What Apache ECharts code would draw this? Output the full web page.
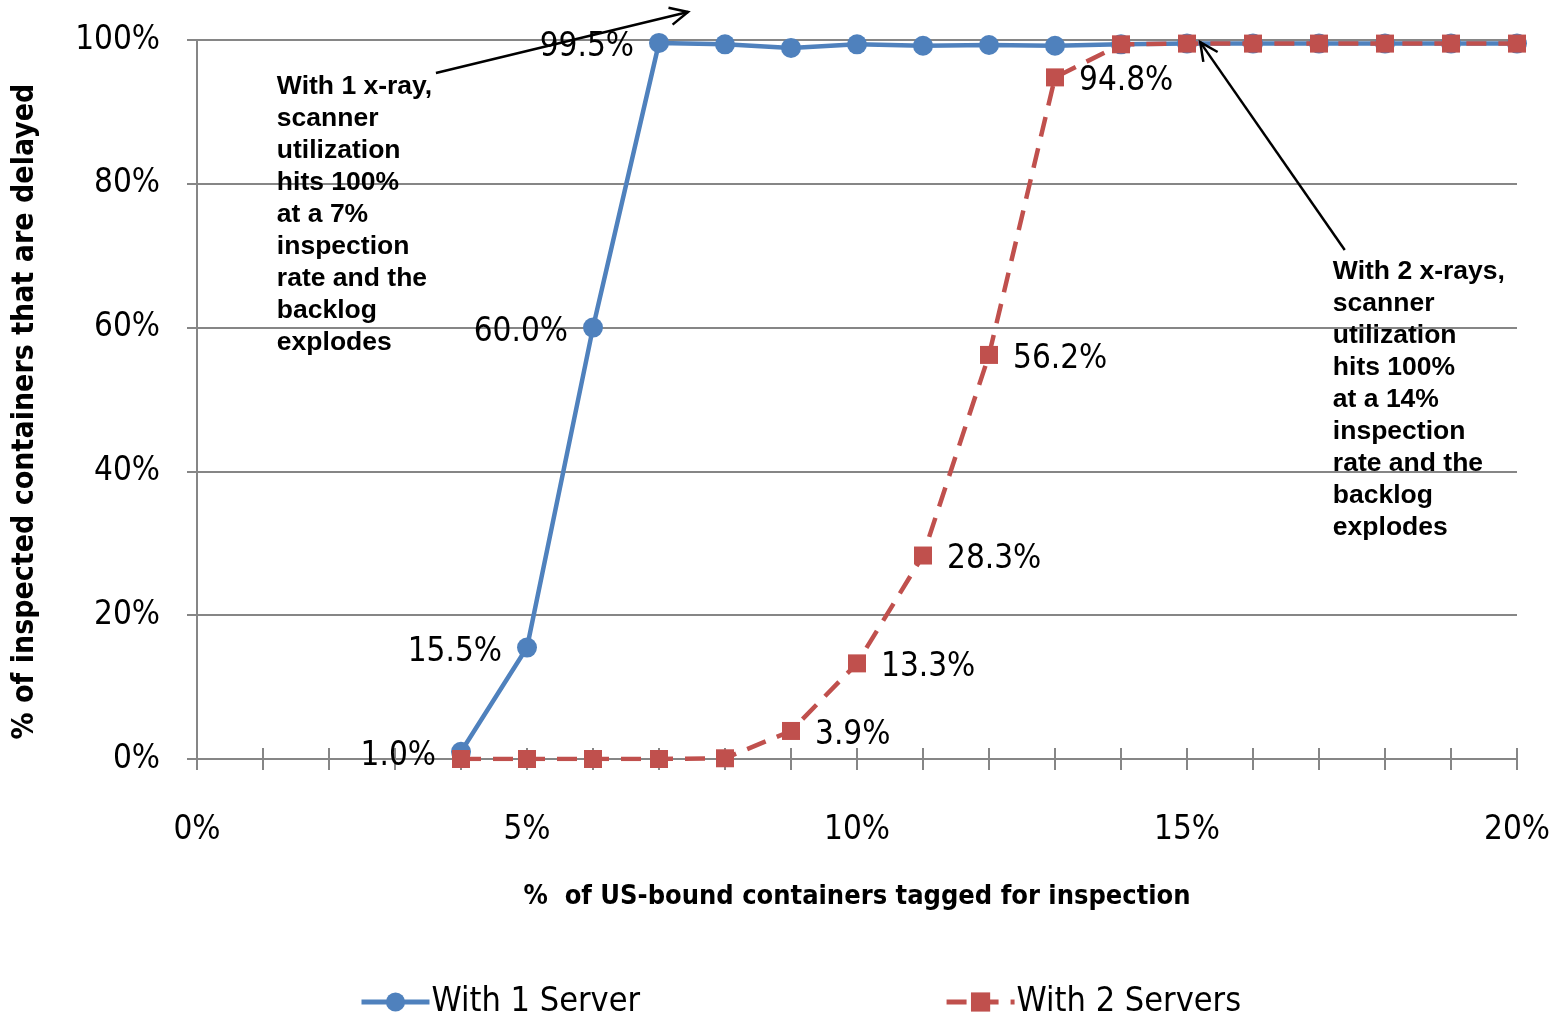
<!DOCTYPE html>
<html>
<head>
<meta charset="utf-8">
<script src="https://cdn.jsdelivr.net/npm/echarts@6/dist/echarts.min.js"></script>
<style>
html,body{margin:0;padding:0;background:#fff;}
#chart{width:1559px;height:1016px;}
</style>
</head>
<body>
<div id="chart"></div>
<script>
// ---- data ----
const xValues = [4, 5, 6, 7, 8, 9, 10, 11, 12, 13, 14, 15, 16, 17, 18, 19, 20];
const oneServer = [1.0, 15.5, 60.0, 99.6, 99.4, 98.9, 99.4, 99.2, 99.3, 99.2, 99.4, 99.5, 99.5, 99.5, 99.5, 99.5, 99.5];
const twoServers = [0, 0, 0, 0, 0.1, 3.9, 13.3, 28.3, 56.2, 94.8, 99.4, 99.5, 99.5, 99.5, 99.5, 99.5, 99.5];
const oneServerLabels = ['1.0%', '15.5%', '60.0%', '99.5%', '', '', '', '', '', '', '', '', '', '', '', '', ''];
const twoServerLabels = ['', '', '', '', '', '3.9%', '13.3%', '28.3%', '56.2%', '94.8%', '', '', '', '', '', '', ''];
const seriesNames = ['With 1 Server', 'With 2 Servers'];
const xTitle = '%  of US-bound containers tagged for inspection';
const yTitle = '% of inspected containers that are delayed';
const note1 = ['With 1 x-ray,', 'scanner', 'utilization', 'hits 100%', 'at a 7%', 'inspection', 'rate and the', 'backlog', 'explodes'];
const note2 = ['With 2 x-rays,', 'scanner', 'utilization', 'hits 100%', 'at a 14%', 'inspection', 'rate and the', 'backlog', 'explodes'];

const NARROW = "'Liberation Sans Narrow', 'DejaVu Sans Condensed', sans-serif";
const BLUE = '#4F81BD', RED = '#C0504D', GRID = '#868686';

const chart = echarts.init(document.getElementById('chart'));

function mk(vals, labels) {
  return xValues.map((x, i) => ({ value: [x, vals[i]], lbl: labels[i] }));
}

const option = {
  animation: false,
  backgroundColor: '#fff',
  grid: { left: 197, right: 42, top: 40, bottom: 257 },
  legend: {
    left: 354, top: 980,
    itemWidth: 68, itemHeight: 24, itemGap: 304,
    textStyle: { fontFamily: NARROW, fontSize: 34, color: '#000', padding: [0, 0, 0, -3] },
    lineStyle: { width: 5 },
    data: seriesNames
  },
  xAxis: [{
    type: 'value', min: 0, max: 20, interval: 5,
    position: 'bottom',
    name: xTitle, nameLocation: 'middle', nameGap: 124,
    nameTextStyle: { fontFamily: NARROW, fontSize: 27, fontWeight: 'bold', color: '#000' },
    axisLine: { show: true, onZero: false, lineStyle: { color: GRID, width: 2 } },
    axisTick: { show: true, length: 11, lineStyle: { color: GRID, width: 2 } },
    minorTick: { show: true, splitNumber: 5, length: 11, lineStyle: { color: GRID, width: 2 } },
    splitLine: { show: false },
    axisLabel: { fontFamily: NARROW, fontSize: 33, color: '#000', margin: 55, formatter: '{value}%' }
  }, {
    type: 'value', min: 0, max: 20, interval: 5,
    position: 'bottom', offset: 0,
    axisLine: { show: false },
    axisTick: { show: true, inside: true, length: 11, lineStyle: { color: GRID, width: 2 } },
    minorTick: { show: true, splitNumber: 5, length: 11, lineStyle: { color: GRID, width: 2 } },
    splitLine: { show: false },
    axisLabel: { show: false }
  }],
  yAxis: {
    type: 'value', min: 0, max: 100, interval: 20,
    name: yTitle, nameLocation: 'middle', nameGap: 157,
    nameTextStyle: { fontFamily: NARROW, fontSize: 30, fontWeight: 'bold', color: '#000', padding: [0, 24, 0, 0] },
    axisLine: { show: true, lineStyle: { color: GRID, width: 2 } },
    axisTick: { show: true, length: 10, lineStyle: { color: GRID, width: 2 } },
    splitLine: { show: true, lineStyle: { color: GRID, width: 2 } },
    axisLabel: { fontFamily: NARROW, fontSize: 33, color: '#000', margin: 37, padding: [12, 0, 0, 0], formatter: '{value}%' }
  },
  series: [{
    name: seriesNames[0], type: 'line', xAxisIndex: 0,
    data: mk(oneServer, oneServerLabels),
    symbol: 'circle', symbolSize: 20,
    lineStyle: { color: BLUE, width: 4.5 },
    itemStyle: { color: BLUE },
    label: {
      show: true, position: 'left', distance: 15, offset: [0, 5],
      fontFamily: NARROW, fontSize: 33, color: '#000',
      formatter: p => p.data.lbl
    },
    z: 2
  }, {
    name: seriesNames[1], type: 'line', xAxisIndex: 0,
    data: mk(twoServers, twoServerLabels),
    symbol: 'rect', symbolSize: 18,
    lineStyle: { color: RED, width: 4.5, type: [20, 12] },
    itemStyle: { color: RED },
    label: {
      show: true, position: 'right', distance: 15, offset: [0, 4],
      fontFamily: NARROW, fontSize: 33, color: '#000',
      formatter: p => p.data.lbl
    },
    z: 3
  }]
};
chart.setOption(option);

// ---- annotations (anchored in data space) ----
function px(x, y) { return chart.convertToPixel({ xAxisIndex: 0, yAxisIndex: 0 }, [x, y]); }
function arrow(from, to) {
  const a = px(from[0], from[1]), b = px(to[0], to[1]);
  const ang = Math.atan2(b[1] - a[1], b[0] - a[0]);
  const L = 20, h = 0.45;
  const p1 = [b[0] - L * Math.cos(ang - h), b[1] - L * Math.sin(ang - h)];
  const p2 = [b[0] - L * Math.cos(ang + h), b[1] - L * Math.sin(ang + h)];
  return [
    { type: 'line', shape: { x1: a[0], y1: a[1], x2: b[0], y2: b[1] }, style: { stroke: '#000', lineWidth: 2.5 }, z: 50 },
    { type: 'polyline', shape: { points: [p1, b, p2] }, style: { stroke: '#000', lineWidth: 2.5, fill: null }, z: 50 }
  ];
}
function note(lines, x, y) {
  const p = px(x, y);
  return {
    type: 'text', x: p[0], y: p[1], z: 50,
    style: {
      text: lines.join('\n'),
      font: "bold 26.5px 'Liberation Sans', Arial, sans-serif",
      lineHeight: 32, fill: '#000', verticalAlign: 'top', align: 'left'
    }
  };
}
const note1Pos = [1.21, 95.7];
const note2Pos = [17.21, 70.0];
const arrow1 = [[3.62, 95.4], [7.44, 103.9]];
const arrow2 = [[17.39, 70.8], [15.2, 99.7]];

chart.setOption({
  graphic: [
    note(note1, note1Pos[0], note1Pos[1]),
    note(note2, note2Pos[0], note2Pos[1]),
    ...arrow(arrow1[0], arrow1[1]),
    ...arrow(arrow2[0], arrow2[1])
  ]
});
</script>
</body>
</html>
